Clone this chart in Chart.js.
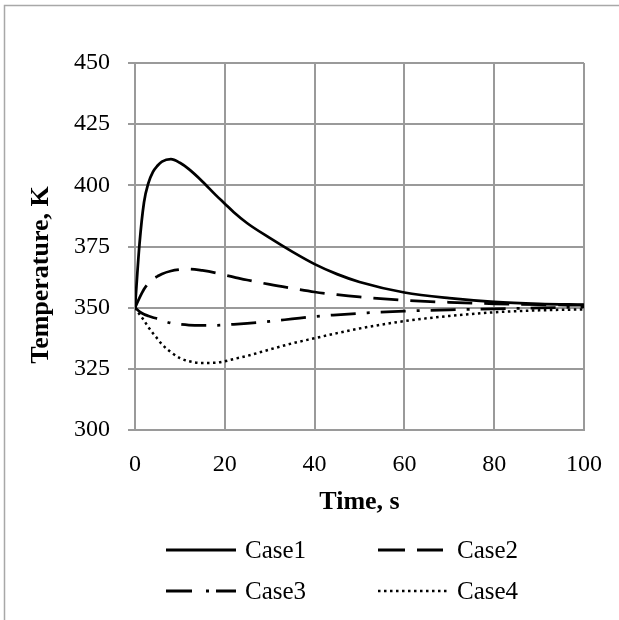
<!DOCTYPE html>
<html>
<head>
<meta charset="utf-8">
<script src="https://cdn.jsdelivr.net/npm/chart.js@4.4.1/dist/chart.umd.min.js"></script>
<style>
  body { margin: 0; background: #fff; overflow: hidden; }
  #wrap { width: 619px; height: 620px; }
  canvas { display: block; }
</style>
</head>
<body>
<div id="wrap"><canvas id="chart"></canvas></div>
<script>
var time  = [0, 1, 2, 3, 4, 5, 6, 8, 10, 12, 15, 18, 20, 22, 25, 30, 35, 40, 45, 50, 60, 70, 80, 90, 100];
var case1 = [350, 376, 393, 401, 405.5, 408, 409.7, 410.7, 409.2, 406.6, 401.6, 396, 392.5, 389, 384.5, 378.5, 372.9, 367.8, 363.7, 360.5, 356.2, 353.9, 352.4, 351.6, 351.2];
var case2 = [350, 354, 357.5, 360, 361.7, 362.8, 363.8, 365, 365.6, 365.8, 365.2, 364.2, 363.3, 362.5, 361.3, 359.5, 357.9, 356.4, 355.3, 354.4, 353, 352.2, 351.6, 351.2, 351];
var case3 = [350, 348.4, 347.3, 346.6, 346, 345.5, 344.8, 343.7, 343.2, 342.9, 342.8, 342.8, 343, 343.2, 343.6, 344.4, 345.4, 346.4, 347.1, 347.7, 348.6, 349.1, 349.5, 349.9, 350.3];
var case4 = [350, 347.3, 344.8, 342, 339.5, 337.3, 335, 331.8, 329.4, 328.1, 327.4, 327.5, 328.1, 329, 330.3, 332.9, 335.4, 337.5, 339.6, 341.5, 344.5, 346.6, 348.1, 348.9, 349.3];

var xTicks = [0, 20, 40, 60, 80, 100];
var yTicks = [300, 325, 350, 375, 400, 425, 450];
var seriesNames = ['Case1', 'Case2', 'Case3', 'Case4'];

var serif = "'Liberation Serif', 'Times New Roman', serif";
var gridColor = '#9a9a9a';

function toPoints(values) {
    return time.map(function (t, i) { return {x: t, y: values[i]}; });
}

function lineSet(label, values, dash, width) {
    return {
        label: label,
        data: toPoints(values),
        borderColor: '#000',
        backgroundColor: '#000',
        borderWidth: width,
        borderDash: dash,
        pointRadius: 0,
        fill: false,
        cubicInterpolationMode: 'monotone'
    };
}

// white background, outer frame, axis titles and the 2x2 legend
var decorations = {
    id: 'decorations',
    beforeDraw: function (chart) {
        var ctx = chart.ctx;
        ctx.save();
        ctx.fillStyle = '#fff';
        ctx.fillRect(0, 0, chart.width, chart.height);
        ctx.strokeStyle = '#a8a8a8';
        ctx.lineWidth = 1.5;
        ctx.beginPath();
        ctx.moveTo(4.5, chart.height);
        ctx.lineTo(4.5, 5.5);
        ctx.lineTo(chart.width, 5.5);
        ctx.stroke();
        ctx.restore();
    },
    afterDraw: function (chart) {
        var ctx = chart.ctx;
        var area = chart.chartArea;
        ctx.save();
        ctx.fillStyle = '#000';

        // axis titles
        ctx.font = 'bold 26px ' + serif;
        ctx.textAlign = 'center';
        ctx.textBaseline = 'alphabetic';
        ctx.fillText('Time, s', (area.left + area.right) / 2, 509);
        ctx.translate(48, 275);
        ctx.rotate(-Math.PI / 2);
        ctx.fillText('Temperature, K', 0, 0);
        ctx.setTransform(1, 0, 0, 1, 0, 0);

        // legend
        var cols = [166, 378];
        var rows = [550, 591];
        var legendDash = [[], [27, 12], [26, 14, 3, 7], [2.5, 3.5]];
        ctx.font = '25px ' + serif;
        ctx.textAlign = 'left';
        ctx.textBaseline = 'middle';
        chart.data.datasets.forEach(function (ds, i) {
            var x = cols[i % 2];
            var y = rows[Math.floor(i / 2)];
            var len = i === 1 ? 65 : 70;
            ctx.beginPath();
            ctx.setLineDash(legendDash[i]);
            ctx.lineWidth = i === 3 ? 2.5 : 3;
            ctx.strokeStyle = '#000';
            ctx.moveTo(x, y);
            ctx.lineTo(x + len, y);
            ctx.stroke();
            ctx.setLineDash([]);
            ctx.fillText(ds.label, i % 2 === 0 ? 245 : 457, y + 1);
        });
        ctx.restore();
    }
};

new Chart(document.getElementById('chart'), {
    type: 'line',
    data: {
        datasets: [
            lineSet(seriesNames[0], case1, [], 2.75),
            lineSet(seriesNames[1], case2, [25, 12], 2.75),
            lineSet(seriesNames[2], case3, [25, 11, 3, 11], 2.75),
            lineSet(seriesNames[3], case4, [2.5, 3.5], 2.5)
        ]
    },
    options: {
        responsive: true,
        maintainAspectRatio: false,
        animation: false,
        layout: { padding: { left: 0, top: 63, right: 35, bottom: 0 } },
        plugins: {
            legend: { display: false },
            tooltip: { enabled: false }
        },
        scales: {
            x: {
                type: 'linear',
                min: 0,
                max: 100,
                afterFit: function (scale) {
                    scale.height = 190;
                    scale.paddingLeft = 0;
                    scale.paddingRight = 0;
                },
                afterBuildTicks: function (scale) {
                    scale.ticks = xTicks.map(function (v) { return {value: v}; });
                },
                grid: { color: gridColor, lineWidth: 2, drawTicks: false },
                border: { color: gridColor, width: 2 },
                ticks: {
                    color: '#000',
                    padding: 20,
                    maxRotation: 0,
                    font: { family: serif, size: 24 }
                }
            },
            y: {
                min: 300,
                max: 450,
                afterFit: function (scale) {
                    scale.width = 135;
                    scale.paddingTop = 0;
                    scale.paddingBottom = 0;
                },
                afterBuildTicks: function (scale) {
                    scale.ticks = yTicks.map(function (v) { return {value: v}; });
                },
                grid: { color: gridColor, lineWidth: 2, tickLength: 7 },
                border: { color: gridColor, width: 2 },
                ticks: {
                    color: '#000',
                    padding: 18,
                    font: { family: serif, size: 24 }
                }
            }
        }
    },
    plugins: [decorations]
});
</script>
</body>
</html>
